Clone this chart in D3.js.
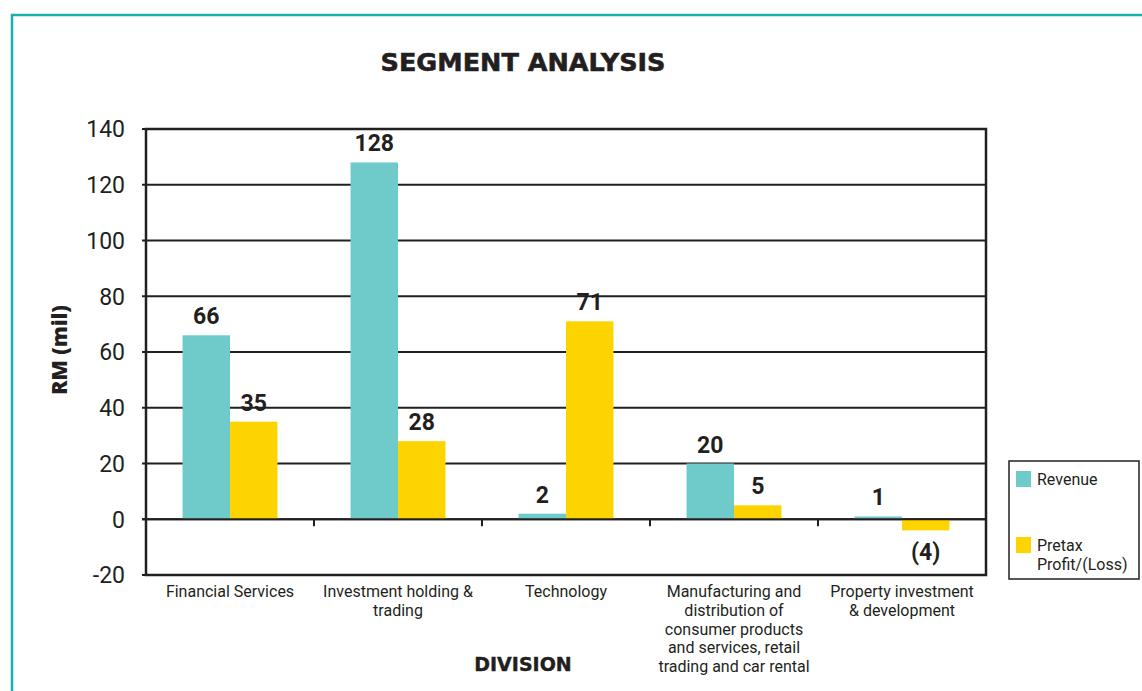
<!DOCTYPE html>
<html>
<head>
<meta charset="utf-8">
<script src="https://cdn.jsdelivr.net/npm/d3@7"></script>
<style>
  body { margin: 0; background: #fff; }
  svg { display: block; }
</style>
</head>
<body>
<div id="chart"></div>
<script>
// data
const categories = [
    ["Financial Services"],
    ["Investment holding &", "trading"],
    ["Technology"],
    ["Manufacturing and", "distribution of", "consumer products", "and services, retail", "trading and car rental"],
    ["Property investment", "& development"]
];
const seriesNames = ["Revenue", "Pretax Profit/(Loss)"];
const revenue = [66, 128, 2, 20, 1];
const pretaxProfit = [35, 28, 71, 5, -4];
const yTicks = [-20, 0, 20, 40, 60, 80, 100, 120, 140];

const width = 1142, height = 691;
const plot = { left: 146, right: 986, top: 129, bottom: 575 };
const ink = "#231f20";
const colors = ["#6ecbca", "#fdd300"];

const svg = d3.select("#chart").append("svg")
    .attr("width", width)
    .attr("height", height);

// teal frame
svg.append("path")
    .attr("d", `M12,${height} V15 H${width}`)
    .attr("fill", "none")
    .attr("stroke", "#18b0ad")
    .attr("stroke-width", 2.5);

const catKeys = categories.map((c, i) => i);

const x = d3.scaleBand()
    .domain(catKeys)
    .range([plot.left, plot.right])
    .padding(0);

const xInner = d3.scaleBand()
    .domain(seriesNames)
    .range([0, x.bandwidth()])
    .paddingInner(0)
    .paddingOuter(0.77);

const y = d3.scaleLinear()
    .domain([-20, 140])
    .range([plot.bottom, plot.top]);

// gridlines + y tick marks
svg.append("g")
    .selectAll("line")
    .data(yTicks)
    .join("line")
    .attr("x1", plot.left - 4)
    .attr("x2", plot.right)
    .attr("y1", d => y(d))
    .attr("y2", d => y(d))
    .attr("stroke", ink)
    .attr("stroke-width", 2);

// y tick labels
svg.append("g")
    .selectAll("text")
    .data(yTicks)
    .join("text")
    .attr("x", 125)
    .attr("y", d => y(d))
    .attr("dy", "0.36em")
    .attr("text-anchor", "end")
    .attr("font-family", "Roboto, sans-serif")
    .attr("font-size", 23)
    .attr("fill", ink)
    .text(d => d);

// bars
const rows = catKeys.map(i => ({ i, vals: [revenue[i], pretaxProfit[i]] }));

const groups = svg.append("g")
    .selectAll("g")
    .data(rows)
    .join("g")
    .attr("transform", d => `translate(${x(d.i)},0)`);

groups.selectAll("rect")
    .data(d => d.vals.map((v, k) => ({ name: seriesNames[k], v, k })))
    .join("rect")
    .attr("x", d => xInner(d.name))
    .attr("width", xInner.bandwidth())
    .attr("y", d => y(Math.max(0, d.v)))
    .attr("height", d => Math.abs(y(d.v) - y(0)))
    .attr("fill", d => colors[d.k]);

groups.selectAll("text")
    .data(d => d.vals.map((v, k) => ({ name: seriesNames[k], v, k })))
    .join("text")
    .attr("x", d => xInner(d.name) + xInner.bandwidth() / 2)
    .attr("y", d => d.v >= 0 ? y(d.v) - 11 : y(d.v) + 30)
    .attr("text-anchor", "middle")
    .attr("font-family", "Roboto, sans-serif")
    .attr("font-weight", "bold")
    .attr("font-size", 23)
    .attr("fill", ink)
    .text(d => d.v < 0 ? `(${Math.abs(d.v)})` : d.v);

// redraw zero line and frame on top of bars
svg.append("line")
    .attr("x1", plot.left - 4).attr("x2", plot.right)
    .attr("y1", y(0)).attr("y2", y(0))
    .attr("stroke", ink).attr("stroke-width", 2);

svg.append("g")
    .selectAll("line")
    .data(catKeys.slice(1))
    .join("line")
    .attr("x1", d => x(d)).attr("x2", d => x(d))
    .attr("y1", y(0)).attr("y2", y(0) + 7)
    .attr("stroke", ink).attr("stroke-width", 2);

svg.append("rect")
    .attr("x", plot.left)
    .attr("y", plot.top)
    .attr("width", plot.right - plot.left)
    .attr("height", plot.bottom - plot.top)
    .attr("fill", "none")
    .attr("stroke", ink)
    .attr("stroke-width", 2.5);

// category labels
const catLabels = svg.append("g")
    .selectAll("text")
    .data(catKeys)
    .join("text")
    .attr("x", d => x(d) + x.bandwidth() / 2)
    .attr("y", 597)
    .attr("text-anchor", "middle")
    .attr("font-family", "Roboto, sans-serif")
    .attr("font-size", 16)
    .attr("fill", ink);

catLabels.selectAll("tspan")
    .data(d => categories[d])
    .join("tspan")
    .attr("x", function () { return this.parentNode.getAttribute("x"); })
    .attr("dy", (d, i) => i === 0 ? 0 : 18.8)
    .text(d => d);

// titles
svg.append("text")
    .attr("x", 523)
    .attr("y", 71)
    .attr("text-anchor", "middle")
    .attr("font-family", "'DejaVu Sans', sans-serif")
    .attr("font-weight", "bold")
    .attr("font-size", 25.5)
    .attr("stroke", ink)
    .attr("stroke-width", 0.6)
    .attr("fill", ink)
    .text("SEGMENT ANALYSIS");

svg.append("text")
    .attr("x", 523)
    .attr("y", 671)
    .attr("text-anchor", "middle")
    .attr("font-family", "'DejaVu Sans', sans-serif")
    .attr("font-weight", "bold")
    .attr("font-size", 19)
    .attr("stroke", ink)
    .attr("stroke-width", 0.4)
    .attr("fill", ink)
    .text("DIVISION");

svg.append("text")
    .attr("transform", "translate(67,350) rotate(-90)")
    .attr("text-anchor", "middle")
    .attr("font-family", "'Open Sans', sans-serif")
    .attr("font-weight", 800)
    .attr("font-size", 21)
    .attr("fill", ink)
    .text("RM (mil)");

// legend
const legend = svg.append("g").attr("transform", "translate(1009,461)");
legend.append("rect")
    .attr("width", 130).attr("height", 118)
    .attr("fill", "#fff")
    .attr("stroke", ink).attr("stroke-width", 1.5);

const legendLines = [["Revenue"], ["Pretax", "Profit/(Loss)"]];
seriesNames.forEach((s, i) => {
    legend.append("rect")
        .attr("x", 7).attr("y", 10 + i * 66)
        .attr("width", 15).attr("height", 16)
        .attr("fill", colors[i]);
    legend.append("text")
        .attr("x", 28).attr("y", 24 + i * 66)
        .attr("font-family", "Roboto, sans-serif")
        .attr("font-size", 16)
        .attr("fill", ink)
        .selectAll("tspan")
        .data(legendLines[i])
        .join("tspan")
        .attr("x", 28)
        .attr("dy", (d, j) => j === 0 ? 0 : 18.5)
        .text(d => d);
});
</script>
</body>
</html>
